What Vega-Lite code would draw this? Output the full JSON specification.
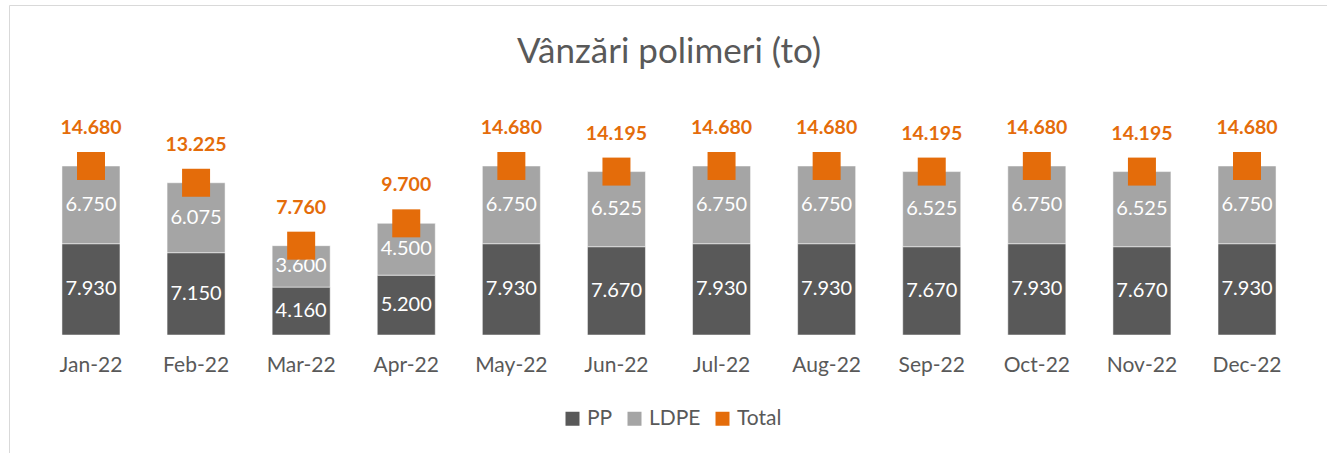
{
  "$schema": "https://vega.github.io/schema/vega-lite/v6.json",
  "width": 1320,
  "height": 460,
  "autosize": {"type": "none"},
  "padding": {"left": 9, "top": 5, "right": 0, "bottom": 0},
  "background": "white",
  "title": {
    "text": "Vânzări polimeri (to)",
    "font": "Lato",
    "fontSize": 35,
    "fontWeight": "normal",
    "color": "#595959",
    "anchor": "middle",
    "baseline": "alphabetic",
    "offset": -93
  },
  "config": {
    "view": {"stroke": "#d9d9d9", "strokeWidth": 1},
    "locale": {
      "number": {"decimal": ",", "thousands": ".", "grouping": [3], "currency": ["", ""]}
    }
  },
  "datasets": {
    "bars": [
      {"month": "Jan-22", "series": "PP", "value": 7930},
      {"month": "Jan-22", "series": "LDPE", "value": 6750},
      {"month": "Feb-22", "series": "PP", "value": 7150},
      {"month": "Feb-22", "series": "LDPE", "value": 6075},
      {"month": "Mar-22", "series": "PP", "value": 4160},
      {"month": "Mar-22", "series": "LDPE", "value": 3600},
      {"month": "Apr-22", "series": "PP", "value": 5200},
      {"month": "Apr-22", "series": "LDPE", "value": 4500},
      {"month": "May-22", "series": "PP", "value": 7930},
      {"month": "May-22", "series": "LDPE", "value": 6750},
      {"month": "Jun-22", "series": "PP", "value": 7670},
      {"month": "Jun-22", "series": "LDPE", "value": 6525},
      {"month": "Jul-22", "series": "PP", "value": 7930},
      {"month": "Jul-22", "series": "LDPE", "value": 6750},
      {"month": "Aug-22", "series": "PP", "value": 7930},
      {"month": "Aug-22", "series": "LDPE", "value": 6750},
      {"month": "Sep-22", "series": "PP", "value": 7670},
      {"month": "Sep-22", "series": "LDPE", "value": 6525},
      {"month": "Oct-22", "series": "PP", "value": 7930},
      {"month": "Oct-22", "series": "LDPE", "value": 6750},
      {"month": "Nov-22", "series": "PP", "value": 7670},
      {"month": "Nov-22", "series": "LDPE", "value": 6525},
      {"month": "Dec-22", "series": "PP", "value": 7930},
      {"month": "Dec-22", "series": "LDPE", "value": 6750}
    ],
    "totals": [
      {"month": "Jan-22", "total": 14680},
      {"month": "Feb-22", "total": 13225},
      {"month": "Mar-22", "total": 7760},
      {"month": "Apr-22", "total": 9700},
      {"month": "May-22", "total": 14680},
      {"month": "Jun-22", "total": 14195},
      {"month": "Jul-22", "total": 14680},
      {"month": "Aug-22", "total": 14680},
      {"month": "Sep-22", "total": 14195},
      {"month": "Oct-22", "total": 14680},
      {"month": "Nov-22", "total": 14195},
      {"month": "Dec-22", "total": 14680}
    ]
  },
  "encoding": {
    "x": {
      "field": "month",
      "type": "nominal",
      "sort": null,
      "scale": {"paddingInner": 0.448, "paddingOuter": 0.504},
      "axis": {
        "title": null,
        "orient": "bottom",
        "offset": -111,
        "domain": false,
        "ticks": false,
        "tickSize": 0,
        "labelPadding": 0,
        "labelAngle": 0,
        "labelFont": "Lato",
        "labelFontSize": 21,
        "labelColor": "#595959",
        "grid": false
      }
    }
  },
  "layer": [
    {
      "data": {"name": "bars"},
      "transform": [
        {"stack": "value", "groupby": ["month"], "sort": [{"field": "series", "order": "descending"}], "as": ["v0", "v1"]},
        {"calculate": "(datum.v0 + datum.v1) / 2", "as": "mid"}
      ],
      "layer": [
        {
          "mark": {"type": "bar", "stroke": "#ffffff", "strokeWidth": 1, "strokeOpacity": 0.5},
          "encoding": {
            "y": {
              "field": "v0",
              "type": "quantitative",
              "scale": {"domain": [-11292, 28666], "nice": false, "zero": false},
              "axis": null
            },
            "y2": {"field": "v1"},
            "color": {
              "field": "series",
              "type": "nominal",
              "scale": {"domain": ["PP", "LDPE", "Total"], "range": ["#595959", "#a5a5a5", "#e46c0a"]},
              "legend": {
                "title": null,
                "orient": "none",
                "legendX": 553,
                "legendY": 403,
                "direction": "horizontal",
                "columns": 3,
                "columnPadding": 11,
                "padding": 0,
                "symbolType": "square",
                "symbolSize": 196,
                "symbolStrokeWidth": 0,
                "symbolOffset": 0,
                "labelOffset": 4,
                "labelFont": "Lato",
                "labelFontSize": 21,
                "labelColor": "#595959"
              }
            }
          }
        },
        {
          "mark": {"type": "text", "color": "white", "font": "Lato", "fontSize": 20, "baseline": "middle", "align": "center"},
          "encoding": {
            "y": {"field": "mid", "type": "quantitative"},
            "text": {"field": "value", "type": "quantitative", "format": ",d"}
          }
        }
      ]
    },
    {
      "data": {"name": "totals"},
      "layer": [
        {
          "mark": {"type": "point", "shape": "square", "filled": true, "size": 784, "opacity": 1},
          "encoding": {
            "y": {"field": "total", "type": "quantitative"},
            "color": {"datum": "Total"}
          }
        },
        {
          "mark": {"type": "text", "color": "#e46c0a", "font": "Lato", "fontSize": 19.5, "fontWeight": "bold", "baseline": "alphabetic", "align": "center", "dy": -32},
          "encoding": {
            "y": {"field": "total", "type": "quantitative"},
            "text": {"field": "total", "type": "quantitative", "format": ",d"}
          }
        }
      ]
    }
  ]
}
